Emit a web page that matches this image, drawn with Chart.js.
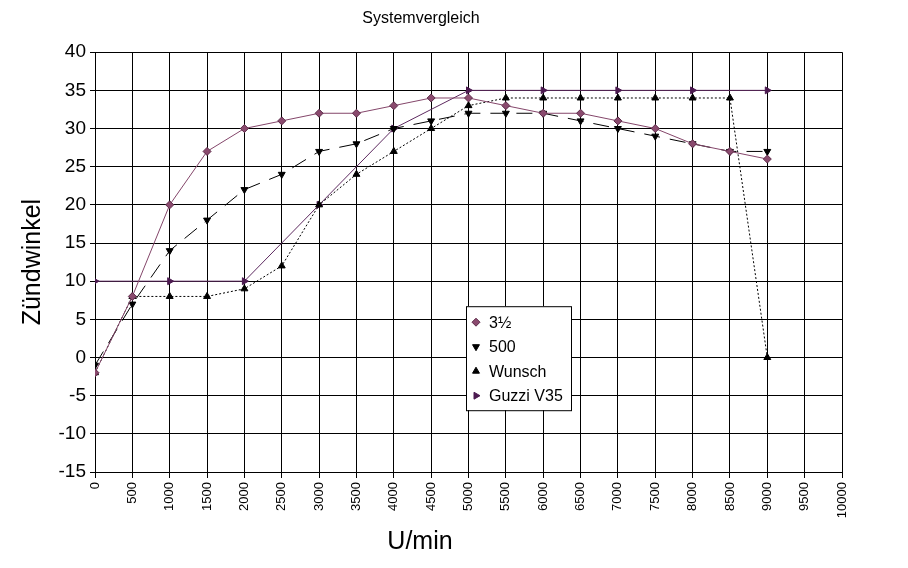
<!DOCTYPE html>
<html>
<head>
<meta charset="utf-8">
<script src="https://cdn.jsdelivr.net/npm/chart.js@4/dist/chart.umd.min.js"></script>
<style>
html, body { margin: 0; padding: 0; background: #fff; }
</style>
</head>
<body>
<canvas id="chart" width="908" height="568"></canvas>
<script>
// Drehzahl-Stützstellen (U/min)
var rpm = [0, 500, 1000, 1500, 2000, 2500, 3000, 3500, 4000, 4500, 5000, 5500, 6000, 6500, 7000, 7500, 8000, 8500, 9000];
var werte35 = [-2, 8, 20, 27, 30, 31, 32, 32, 33, 34, 34, 33, 32, 32, 31, 30, 28, 27, 26];
var werte500 = [-1, 7, 14, 18, 22, 24, 27, 28, 30, 31, 32, 32, 32, 31, 30, 29, 28, 27, 27];
var wunsch = [-2, 8, 8, 8, 9, 12, 20, 24, 27, 30, 33, 34, 34, 34, 34, 34, 34, 34, 0];
var guzziRpm = [0, 1000, 2000, 3000, 4000, 5000, 6000, 7000, 8000, 9000];
var guzzi = [10, 10, 10, 20, 30, 35, 35, 35, 35, 35];
var seriesNames = ['3\u00BD', '500', 'Wunsch', 'Guzzi V35'];

var FONT = '"Liberation Sans", Arial, sans-serif';
Chart.defaults.font.family = FONT;
Chart.defaults.color = '#000';

function pts(xs, ys) {
    return xs.map(function (x, i) { return { x: x, y: ys[i] }; });
}

// x-Achsentitel und Legende im Diagramm
var extras = {
    id: 'extras',
    afterDraw: function (chart) {
        var ctx = chart.ctx;
        var area = chart.chartArea;
        ctx.save();
        ctx.fillStyle = '#000';
        ctx.font = '25px ' + FONT;
        ctx.textAlign = 'center';
        ctx.textBaseline = 'alphabetic';
        ctx.fillText('U/min', area.left + 325, 549);

        var lx = area.left + 371, ly = area.top + 254, lw = 105, lh = 104;
        ctx.fillStyle = '#fff';
        ctx.fillRect(lx, ly, lw, lh);
        ctx.strokeStyle = '#000';
        ctx.lineWidth = 1;
        ctx.strokeRect(lx + 0.5, ly + 0.5, lw, lh);
        ctx.font = '16px ' + FONT;
        ctx.textAlign = 'left';
        ctx.textBaseline = 'middle';
        chart.data.datasets.forEach(function (ds, i) {
            var y = ly + 16 + i * 24.5;
            ctx.fillStyle = ds.pointBackgroundColor;
            ctx.strokeStyle = ds.pointBorderColor;
            ctx.lineWidth = 1;
            Chart.helpers.drawPoint(ctx, {
                pointStyle: ds.pointStyle,
                rotation: ds.pointRotation || 0,
                radius: 4,
                borderWidth: 1
            }, lx + 10, y);
            ctx.fillStyle = '#000';
            ctx.fillText(ds.label, lx + 23, y + 1);
        });
        ctx.restore();
    }
};

var ctx = document.getElementById('chart').getContext('2d');
var chart = new Chart(ctx, {
    type: 'line',
    data: {
        datasets: [
            {
                label: seriesNames[0],
                data: pts(rpm, werte35),
                borderColor: '#84466a',
                borderWidth: 1,
                pointStyle: 'rectRot',
                pointRadius: 4,
                pointBackgroundColor: '#8a4a6e',
                pointBorderColor: '#5e2c4a',
                pointBorderWidth: 1
            },
            {
                label: seriesNames[1],
                data: pts(rpm, werte500),
                borderColor: '#000',
                borderWidth: 1,
                borderDash: [16, 10],
                pointStyle: 'triangle',
                pointRotation: 180,
                pointRadius: 4,
                pointBackgroundColor: '#000',
                pointBorderColor: '#000',
                pointBorderWidth: 1
            },
            {
                label: seriesNames[2],
                data: pts(rpm, wunsch),
                borderColor: '#000',
                borderWidth: 1,
                borderDash: [2, 2],
                pointStyle: 'triangle',
                pointRadius: 4,
                pointBackgroundColor: '#000',
                pointBorderColor: '#000',
                pointBorderWidth: 1
            },
            {
                label: seriesNames[3],
                data: pts(guzziRpm, guzzi),
                borderColor: '#5e2a60',
                borderWidth: 1,
                pointStyle: 'triangle',
                pointRotation: 90,
                pointRadius: 4,
                pointBackgroundColor: '#4c1a50',
                pointBorderColor: '#4c1a50',
                pointBorderWidth: 1
            }
        ]
    },
    options: {
        responsive: false,
        animation: false,
        layout: { padding: { left: 0, right: 66, top: 0, bottom: 0 } },
        elements: { line: { tension: 0 } },
        plugins: {
            legend: { display: false },
            tooltip: { enabled: false },
            title: {
                display: true,
                text: 'Systemvergleich',
                color: '#000',
                font: { size: 16, weight: 'normal' },
                padding: { top: 9, bottom: 24 }
            }
        },
        scales: {
            x: {
                type: 'linear',
                min: 0,
                max: 10000,
                ticks: {
                    stepSize: 500,
                    autoSkip: false,
                    minRotation: 90,
                    maxRotation: 90,
                    padding: 4,
                    color: '#000',
                    font: { size: 13 },
                    callback: function (v) { return String(v); }
                },
                grid: { color: '#000', lineWidth: 1, tickLength: 6, drawTicks: true },
                border: { color: '#000', width: 1 },
                afterFit: function (scale) { scale.height = 96; }
            },
            y: {
                min: -15,
                max: 40,
                ticks: {
                    stepSize: 5,
                    padding: 4,
                    color: '#000',
                    font: { size: 19 }
                },
                grid: { color: '#000', lineWidth: 1, tickLength: 5, drawTicks: true },
                border: { color: '#000', width: 1 },
                title: {
                    display: true,
                    text: 'Zündwinkel',
                    color: '#000',
                    font: { size: 25 },
                    padding: { top: 18, bottom: 0 }
                },
                afterFit: function (scale) { scale.width = 95; }
            }
        }
    },
    plugins: [extras]
});
</script>
</body>
</html>
